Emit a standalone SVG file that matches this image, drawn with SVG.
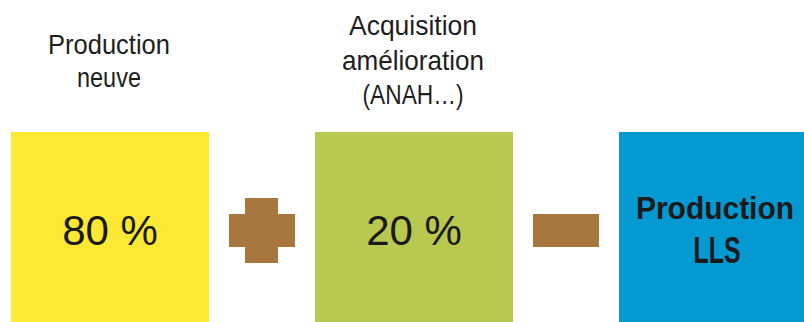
<svg xmlns="http://www.w3.org/2000/svg" width="804" height="322" viewBox="0 0 804 322">
<style>
.lbl{font-family:"Liberation Sans",Arial,sans-serif;font-size:28px;fill:#1e1e1e;text-anchor:middle}
.pct{font-family:"Liberation Sans",Arial,sans-serif;font-size:42px;fill:#1a1a1a;text-anchor:middle}
.big{font-family:"Liberation Sans",Arial,sans-serif;font-size:36px;font-weight:bold;fill:#1a1a1a;text-anchor:middle}
.op{fill:#A87740}
</style>
<rect width="804" height="322" fill="#ffffff"/>
<g id="label-neuve">
<text class="lbl" x="109" y="54" textLength="122" lengthAdjust="spacingAndGlyphs">Production</text>
<text class="lbl" x="109" y="87" textLength="64" lengthAdjust="spacingAndGlyphs">neuve</text>
</g>
<g id="label-acq">
<text class="lbl" x="413" y="35" textLength="128" lengthAdjust="spacingAndGlyphs">Acquisition</text>
<text class="lbl" x="413" y="70" textLength="142" lengthAdjust="spacingAndGlyphs">amélioration</text>
<text class="lbl" x="413" y="104" textLength="101" lengthAdjust="spacingAndGlyphs">(ANAH…)</text>
</g>
<g id="node-neuve">
<rect x="11" y="132" width="198" height="190" fill="#FDE933"/>
<text class="pct" x="110" y="245">80 %</text>
</g>
<g id="node-acq">
<rect x="315" y="132" width="198" height="190" fill="#B9C84F"/>
<text class="pct" x="414" y="245">20 %</text>
</g>
<g id="node-lls">
<rect x="619" y="132" width="185" height="190" fill="#0499D0"/>
<text class="big" x="715" y="219" style="font-size:32px" textLength="158" lengthAdjust="spacingAndGlyphs">Production</text>
<text class="big" x="717" y="263" textLength="47" lengthAdjust="spacingAndGlyphs">LLS</text>
</g>
<g id="connectors">
<path class="op" d="M245 198H278V214H295V247H278V263H245V247H229V214H245Z"/>
<rect class="op" x="533" y="214" width="66" height="33"/>
</g>
</svg>
